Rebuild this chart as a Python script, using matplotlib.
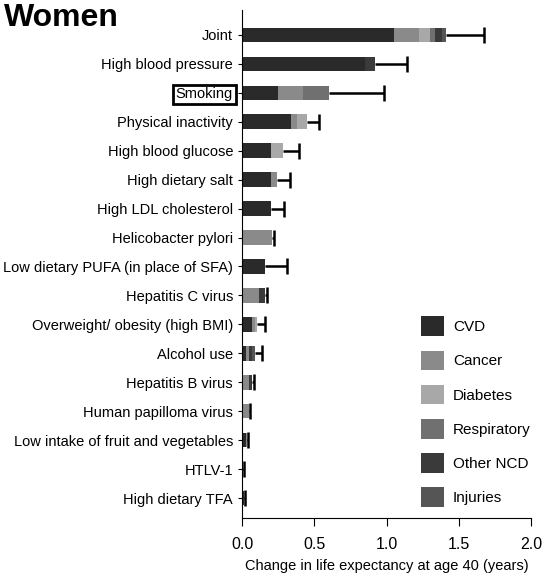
import numpy as np
import matplotlib
matplotlib.use('Agg')
import matplotlib.pyplot as plt
from matplotlib.patches import Patch

plt.rcParams['font.family'] = ['Liberation Sans', 'DejaVu Sans']

risks = ['Joint', 'High blood pressure', 'Smoking', 'Physical inactivity',
         'High blood glucose', 'High dietary salt', 'High LDL cholesterol',
         'Helicobacter pylori', 'Low dietary PUFA (in place of SFA)',
         'Hepatitis C virus', 'Overweight/ obesity (high BMI)', 'Alcohol use',
         'Hepatitis B virus', 'Human papilloma virus',
         'Low intake of fruit and vegetables', 'HTLV-1', 'High dietary TFA']

causes = ['CVD', 'Cancer', 'Diabetes', 'Respiratory', 'Other NCD', 'Injuries']
colors = ['#2a2a2a', '#8a8a8a', '#a8a8a8', '#707070', '#3a3a3a', '#555555']

cvd         = [1.05, 0.85, 0.25, 0.34, 0.20, 0.20, 0.20, 0.00, 0.16, 0.00, 0.07, 0.03, 0.00, 0.00, 0.025, 0.000, 0.012]
cancer      = [0.17, 0.00, 0.17, 0.04, 0.00, 0.04, 0.00, 0.21, 0.00, 0.12, 0.02, 0.02, 0.05, 0.05, 0.010, 0.008, 0.000]
diabetes    = [0.08, 0.00, 0.00, 0.07, 0.08, 0.00, 0.00, 0.00, 0.00, 0.00, 0.01, 0.00, 0.00, 0.00, 0.000, 0.000, 0.000]
respiratory = [0.03, 0.00, 0.18, 0.00, 0.00, 0.00, 0.00, 0.00, 0.00, 0.00, 0.00, 0.00, 0.00, 0.00, 0.000, 0.000, 0.000]
other_ncd   = [0.05, 0.07, 0.00, 0.00, 0.00, 0.00, 0.00, 0.00, 0.00, 0.04, 0.00, 0.02, 0.02, 0.00, 0.000, 0.000, 0.000]
injuries    = [0.03, 0.00, 0.00, 0.00, 0.00, 0.00, 0.00, 0.00, 0.00, 0.00, 0.00, 0.02, 0.00, 0.00, 0.000, 0.000, 0.000]
upper_ci    = [1.67, 1.14, 0.98, 0.53, 0.39, 0.33, 0.29, 0.22, 0.31, 0.17, 0.16, 0.14, 0.08, 0.055, 0.040, 0.010, 0.020]

xticks = [0.0, 0.5, 1.0, 1.5, 2.0]

fig = plt.figure(figsize=(5.44, 5.88), dpi=100)
ax = fig.add_axes([0.445, 0.119, 0.532, 0.864])

y = np.arange(len(risks))
parts = [cvd, cancer, diabetes, respiratory, other_ncd, injuries]
left = np.zeros(len(risks))
for vals, c in zip(parts, colors):
    vals = np.array(vals)
    ax.barh(y, vals, left=left, height=0.5, color=c, edgecolor='none', zorder=2)
    left += vals

# one-sided error: line from bar end to upper bound, cap at upper bound only
total = left
upper = np.array(upper_ci)
ax.hlines(y, total, upper, color='black', linewidth=1.8, zorder=3)
ax.plot(upper, y, linestyle='none', marker='|', markersize=11, markeredgewidth=1.8,
        color='black', zorder=3)

ax.set_yticks(y)
ax.set_yticklabels(risks, fontsize=10.5)
ax.set_ylim(len(risks) - 0.31, -0.86)
ax.set_xlim(0, 2.0)
ax.set_xticks(xticks)
ax.set_xticklabels([f'{t:.1f}' for t in xticks], fontsize=11.5)
ax.set_xlabel('Change in life expectancy at age 40 (years)', fontsize=10.5, labelpad=5)
ax.spines['top'].set_visible(False)
ax.spines['right'].set_visible(False)
ax.tick_params(axis='y', length=3)
ax.tick_params(axis='x', length=6, pad=8)

for lbl in ax.get_yticklabels():
    if lbl.get_text() == 'Smoking':
        lbl.set_bbox(dict(facecolor='white', edgecolor='black', linewidth=2, pad=2))

handles = [Patch(facecolor=c, edgecolor='none') for c in colors]
ax.legend(handles, causes, loc='lower right', bbox_to_anchor=(1.045, -0.005), frameon=False,
          fontsize=11, handlelength=1.5, handleheight=1.6, labelspacing=0.95,
          handletextpad=0.6, borderaxespad=0.5)

fig.text(0.008, 0.995, 'Women', fontsize=23, fontweight='bold', va='top', ha='left')

fig.savefig('out.png', dpi=100)
